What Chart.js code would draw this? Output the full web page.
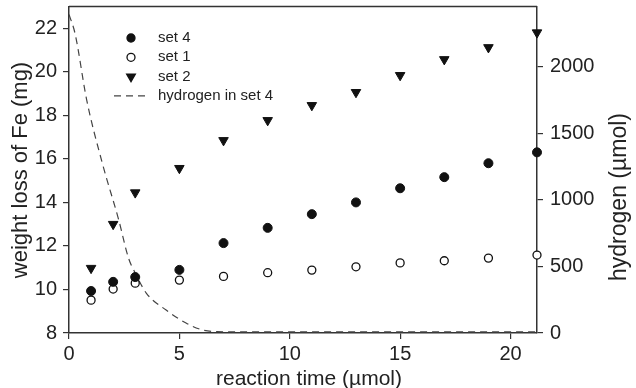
<!DOCTYPE html>
<html lang="en">
<head>
  <meta charset="UTF-8" />
  <title>Weight loss of Fe</title>
  <script src="https://cdn.jsdelivr.net/npm/chart.js"></script>
  <style>
    html, body { margin: 0; padding: 0; background: #ffffff; overflow: hidden; }
    .chart-box { width: 636px; height: 388px; }
  </style>
</head>
<body>

<div class="chart-box">
  <canvas id="feChart" width="636" height="388"></canvas>
</div>

<script>
  // reaction time points for the three sets
  const times = [1, 2, 3, 5, 7, 9, 11, 13, 15, 17, 19, 21.2];
  const set4 = [9.93, 10.35, 10.57, 10.9, 12.13, 12.83, 13.46, 14.0, 14.65, 15.16, 15.8, 16.3];
  const set1 = [9.51, 10.02, 10.29, 10.43, 10.6, 10.77, 10.89, 11.04, 11.22, 11.32, 11.44, 11.58];
  const set2 = [10.98, 13.0, 14.45, 15.57, 16.85, 17.77, 18.46, 19.06, 19.84, 20.57, 21.12, 21.8];

  // hydrogen in set 4 (right axis)
  const h2Times = [0, 0.27, 0.8, 1.5, 2.25, 2.7, 3.0, 3.5, 4.4, 5.3, 6.0, 6.7, 10, 15, 21.2];
  const h2Values = [2390, 2250, 1750, 1280, 850, 560, 450, 300, 172, 75, 25, 10, 8, 8, 8];

  const xTicks = [0, 5, 10, 15, 20];
  const leftTicks = [8, 10, 12, 14, 16, 18, 20, 22];
  const rightTicks = [0, 500, 1000, 1500, 2000];

  const ink = '#111';
  const textColor = '#222';
  const fontFamily = '"Liberation Sans", Arial, sans-serif';

  const pairs = (xs, ys) => xs.map((x, i) => ({ x: x, y: ys[i] }));

  // legend drawn inside the plot, top left
  const legendItems = [
    { label: 'set 4', style: 'circle', fill: ink },
    { label: 'set 1', style: 'circle', fill: '#fff' },
    { label: 'set 2', style: 'triangle', fill: ink },
    { label: 'hydrogen in set 4', style: 'dash' }
  ];

  function noPadding(scale) {
    scale.paddingTop = 0;
    scale.paddingBottom = 0;
    scale.paddingLeft = 0;
    scale.paddingRight = 0;
  }

  const framePlugin = {
    id: 'frame',
    afterDraw(chart) {
      const ctx = chart.ctx;
      const a = chart.chartArea;
      ctx.save();
      // top border of the frame
      ctx.strokeStyle = '#333';
      ctx.lineWidth = 1.5;
      ctx.beginPath();
      ctx.moveTo(a.left, a.top);
      ctx.lineTo(a.right, a.top);
      ctx.stroke();

      // axis titles
      ctx.fillStyle = textColor;
      ctx.textAlign = 'center';
      ctx.textBaseline = 'alphabetic';
      ctx.font = '21px ' + fontFamily;
      ctx.fillText('reaction time (µmol)', 309, 385);

      ctx.font = '22px ' + fontFamily;
      ctx.save();
      ctx.translate(27, 170);
      ctx.rotate(-Math.PI / 2);
      ctx.fillText('weight loss of Fe (mg)', 0, 0);
      ctx.restore();

      ctx.font = '23px ' + fontFamily;
      ctx.save();
      ctx.translate(626, 197);
      ctx.rotate(-Math.PI / 2);
      ctx.fillText('hydrogen (µmol)', 0, 0);
      ctx.restore();

      // legend
      ctx.font = '15px ' + fontFamily;
      ctx.textAlign = 'left';
      ctx.textBaseline = 'middle';
      legendItems.forEach((item, i) => {
        const y = 38 + i * 19.3;
        if (item.style === 'dash') {
          ctx.strokeStyle = '#444';
          ctx.lineWidth = 1.2;
          ctx.setLineDash([7, 5]);
          ctx.beginPath();
          ctx.moveTo(114, y);
          ctx.lineTo(148, y);
          ctx.stroke();
          ctx.setLineDash([]);
        } else {
          ctx.fillStyle = item.fill;
          ctx.strokeStyle = ink;
          ctx.lineWidth = 1.3;
          Chart.helpers.drawPoint(ctx, {
            pointStyle: item.style,
            radius: item.style === 'triangle' ? 5 : 4,
            rotation: item.style === 'triangle' ? 180 : 0,
            borderWidth: 1.3
          }, 131, y);
        }
        ctx.fillStyle = textColor;
        ctx.fillText(item.label, 158, y);
      });
      ctx.restore();
    }
  };

  const ctx = document.getElementById('feChart').getContext('2d');

  const tickFont = { size: 20, family: fontFamily };

  const feChart = new Chart(ctx, {
    type: 'scatter',
    data: {
      datasets: [
        {
          label: 'hydrogen in set 4',
          data: pairs(h2Times, h2Values),
          yAxisID: 'yRight',
          showLine: true,
          borderColor: '#444',
          borderWidth: 1.2,
          borderDash: [7, 5],
          pointRadius: 0,
          cubicInterpolationMode: 'monotone',
          order: 4
        },
        {
          label: 'set 1',
          data: pairs(times, set1),
          yAxisID: 'yLeft',
          pointStyle: 'circle',
          pointRadius: 4,
          pointBorderWidth: 1.3,
          borderColor: ink,
          backgroundColor: '#fff',
          clip: 10,
          order: 2
        },
        {
          label: 'set 4',
          data: pairs(times, set4),
          yAxisID: 'yLeft',
          pointStyle: 'circle',
          pointRadius: 4.5,
          borderColor: ink,
          backgroundColor: ink,
          clip: 10,
          order: 1
        },
        {
          label: 'set 2',
          data: pairs(times, set2),
          yAxisID: 'yLeft',
          pointStyle: 'triangle',
          rotation: 180,
          pointRadius: 5.5,
          borderColor: ink,
          backgroundColor: ink,
          clip: 10,
          order: 3
        }
      ]
    },
    options: {
      responsive: false,
      animation: false,
      layout: { padding: { top: 6, left: 0, right: 0, bottom: 0 } },
      plugins: {
        legend: { display: false },
        tooltip: { enabled: false }
      },
      scales: {
        x: {
          type: 'linear',
          min: 0,
          max: 21.2,
          afterFit(scale) { scale.height = 55; noPadding(scale); },
          afterBuildTicks(scale) { scale.ticks = xTicks.map(v => ({ value: v })); },
          border: { display: true, color: '#333', width: 1.5 },
          grid: { drawOnChartArea: false, drawTicks: true, tickLength: 6, color: '#333', lineWidth: 1.2 },
          ticks: { color: textColor, font: tickFont, padding: 3, maxRotation: 0 }
        },
        yLeft: {
          type: 'linear',
          position: 'left',
          min: 8,
          max: 23,
          afterFit(scale) { scale.width = 69; noPadding(scale); },
          afterBuildTicks(scale) { scale.ticks = leftTicks.map(v => ({ value: v })); },
          border: { display: true, color: '#333', width: 1.5 },
          grid: { drawOnChartArea: false, drawTicks: true, tickLength: 6, color: '#333', lineWidth: 1.2 },
          ticks: { color: textColor, font: tickFont, padding: 6 }
        },
        yRight: {
          type: 'linear',
          position: 'right',
          min: 0,
          max: 2450,
          afterFit(scale) { scale.width = 99; noPadding(scale); },
          afterBuildTicks(scale) { scale.ticks = rightTicks.map(v => ({ value: v })); },
          border: { display: true, color: '#333', width: 1.5 },
          grid: { drawOnChartArea: false, drawTicks: true, tickLength: 6, color: '#333', lineWidth: 1.2 },
          ticks: { color: textColor, font: tickFont, padding: 7, callback: v => String(v) }
        }
      }
    },
    plugins: [framePlugin]
  });
</script>

</body>
</html>
